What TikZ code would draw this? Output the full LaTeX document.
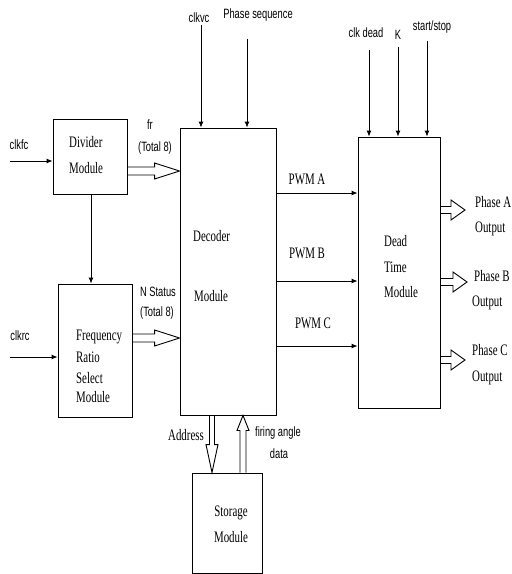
\documentclass[tikz,border=0pt]{standalone}
\usepackage{fontspec}
\setmainfont{Liberation Serif}
\newfontfamily\ser{Liberation Serif}[FakeStretch=0.68]
\newfontfamily\lab{Liberation Sans}[FakeStretch=0.69]
\usetikzlibrary{calc,arrows.meta}
\newcommand\harr[5]{\draw[conn] let \p1=(#1), \p2=(#2) in (\x1,\y1+#3) -- (\x2-#5,\y1+#3) -- (\x2-#5,\y1+#4) -- (\x2,\y1) -- (\x2-#5,\y1-#4) -- (\x2-#5,\y1-#3) -- (\x1,\y1-#3);}
\newcommand\darr[5]{\draw[conn] let \p1=(#1), \p2=(#2) in (\x1+#3,\y1) -- (\x1+#3,\y2+#5) -- (\x1+#4,\y2+#5) -- (\x1,\y2) -- (\x1-#4,\y2+#5) -- (\x1-#3,\y2+#5) -- (\x1-#3,\y1);}
\newcommand\uarr[5]{\draw[conn] let \p1=(#1), \p2=(#2) in (\x1+#3,\y1) -- (\x1+#3,\y2-#5) -- (\x1+#4,\y2-#5) -- (\x1,\y2) -- (\x1-#4,\y2-#5) -- (\x1-#3,\y2-#5) -- (\x1-#3,\y1);}
\begin{document}
\begin{tikzpicture}[x=1pt,y=-1pt,
  box/.style={draw,line width=0.9pt,inner sep=0pt},
  conn/.style={line width=0.9pt},
  sarr/.style={conn,-{Latex[length=6pt,width=5pt]}},
  btxt/.style={inner sep=0pt,font=\ser\fontsize{16}{18}\selectfont},
  ltxt/.style={inner sep=0pt,font=\lab\fontsize{13.5}{15}\selectfont}]
\useasboundingbox (0,0) rectangle (512,574);
% boxes
\node[box,minimum width=74pt,minimum height=75pt] (div) at (90,156.5) {};
\node[box,minimum width=74pt,minimum height=133pt] (frs) at (95,350.5) {};
\node[box,minimum width=96pt,minimum height=287pt] (dec) at (228,271.5) {};
\node[box,minimum width=82pt,minimum height=271pt] (dtm) at (399,272.5) {};
\node[box,minimum width=70pt,minimum height=100pt] (sto) at (227,523) {};
% box texts
\node[btxt,anchor=west] (t1) at (69,142) {Divider};
\node[btxt,anchor=west] (t2) at (69,168) {Module};
\node[btxt,anchor=west] (t3) at (76,337) {Frequency};
\node[btxt,anchor=west] (t4) at (76,357) {Ratio};
\node[btxt,anchor=west] (t5) at (76,378) {Select};
\node[btxt,anchor=west] (t6) at (76,397) {Module};
\node[btxt,anchor=west] (t7) at (193,236) {Decoder};
\node[btxt,anchor=west] (t8) at (194,296) {Module};
\node[btxt,anchor=west] (t9) at (384,241) {Dead};
\node[btxt,anchor=west] (t10) at (384,267) {Time};
\node[btxt,anchor=west] (t11) at (384,292) {Module};
\node[btxt] (t12) at (231,513) {Storage};
\node[btxt] (t13) at (231,537) {Module};
% inputs
\coordinate (cf) at (10,161);
\draw[sarr] (cf) -- (div.west |- cf);
\node[ltxt] (lcf) at (19,145) {clkfc};
\coordinate (cr) at (10,357);
\draw[sarr] (cr) -- (frs.west |- cr);
\node[ltxt] (lcr) at (20,336) {clkrc};
\draw[sarr] (div.south -| 91,0) -- (frs.north -| 91,0);
\coordinate (cv) at (201,25);
\draw[sarr] (cv) -- (dec.north -| cv);
\node[ltxt] (lcv) at (199,18) {clkvc};
\coordinate (ps) at (247,39);
\draw[sarr] (ps) -- (dec.north -| ps);
\node[ltxt] (lps) at (258,15) {Phase sequence};
\coordinate (cd) at (369,50);
\draw[sarr] (cd) -- (dtm.north -| cd);
\node[ltxt] (lcd) at (366,33) {clk dead};
\coordinate (kk) at (398,47);
\draw[sarr] (kk) -- (dtm.north -| kk);
\node[ltxt] (lk) at (398,35) {K};
\coordinate (ss) at (427,41);
\draw[sarr] (ss) -- (dtm.north -| ss);
\node[ltxt] (lss) at (432,27) {start/stop};
% double arrows into decoder
\coordinate (fa) at (div.east |- 0,171);
\coordinate (fb) at (dec.west |- 0,171);
\harr{fa}{fb}{4pt}{8pt}{25pt}
\node[ltxt] (lfr) at (150,125) {fr};
\node[ltxt] (lft) at (155,148) {(Total 8)};
\coordinate (na) at (frs.east |- 0,338);
\coordinate (nb) at (dec.west |- 0,338);
\harr{na}{nb}{4pt}{8pt}{25pt}
\node[ltxt] (lns) at (158,292) {N Status};
\node[ltxt] (lnt) at (157,313) {(Total 8)};
% PWM
\draw[sarr] (dec.east |- 0,193) -- (dtm.west |- 0,193);
\node[btxt] (pa) at (307,179) {PWM A};
\draw[sarr] (dec.east |- 0,281) -- (dtm.west |- 0,281);
\node[btxt] (pb) at (307,253) {PWM B};
\draw[sarr] (dec.east |- 0,346) -- (dtm.west |- 0,346);
\node[btxt] (pc) at (313,323) {PWM C};
% outputs
\coordinate (oa1) at (dtm.east |- 0,210); \coordinate (oa2) at (465,210);
\harr{oa1}{oa2}{3.5pt}{10pt}{14pt}
\coordinate (ob1) at (dtm.east |- 0,282); \coordinate (ob2) at (467,282);
\harr{ob1}{ob2}{3.5pt}{10pt}{14pt}
\coordinate (oc1) at (dtm.east |- 0,360); \coordinate (oc2) at (465,360);
\harr{oc1}{oc2}{3.5pt}{10pt}{14pt}
\node[btxt,anchor=west] (oat) at (475,202) {Phase A};
\node[btxt,anchor=west] (oao) at (475,229) {Output};
\node[btxt,anchor=west] (obt) at (474,276) {Phase B};
\node[btxt,anchor=west] (obo) at (472,303) {Output};
\node[btxt,anchor=west] (oct) at (472,350) {Phase C};
\node[btxt,anchor=west] (oco) at (472,378) {Output};
% storage arrows
\coordinate (ad1) at (dec.south -| 212,0);
\coordinate (ad2) at (sto.north -| 212,0);
\darr{ad1}{ad2}{2.5pt}{6pt}{28pt}
\node[btxt] (lad) at (186,435) {Address};
\coordinate (fg1) at (sto.north -| 243,0);
\coordinate (fg2) at (dec.south -| 243,0);
\uarr{fg1}{fg2}{3pt}{6pt}{15pt}
\node[ltxt] (lfg) at (278,433) {firing angle};
\node[ltxt] (lfd) at (279,454) {data};
\end{tikzpicture}
\end{document}
